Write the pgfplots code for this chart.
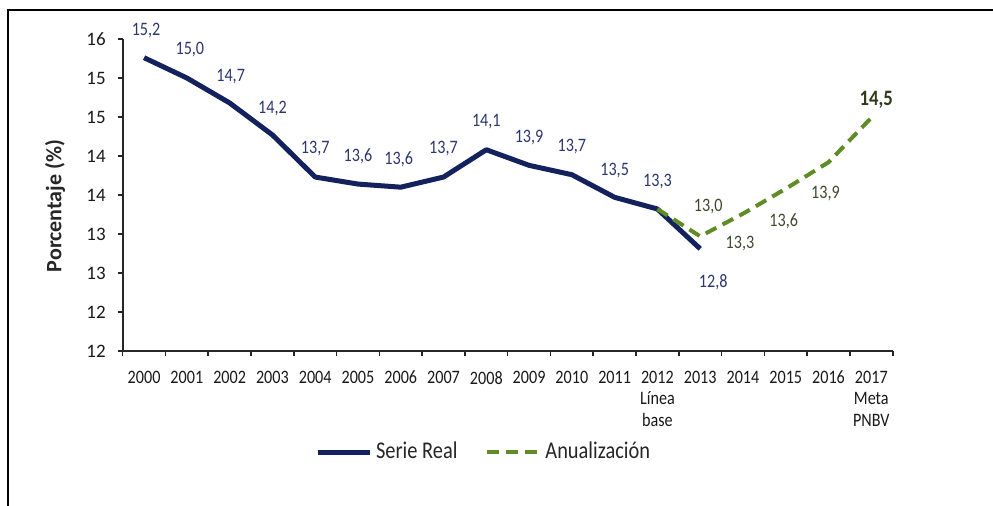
\documentclass[border=0pt]{standalone}
\usepackage{fontspec}
\setmainfont{Carlito}[FakeStretch=0.85]
\newfontfamily\ylabfont{Carlito}
\usepackage{pgfplots}
\pgfplotsset{compat=1.18}
\usepackage{pgfplotstable}
\definecolor{navyline}{HTML}{13215C}
\definecolor{navylab}{HTML}{2B3672}
\definecolor{greenline}{HTML}{5E8C25}
\definecolor{greenlab}{HTML}{3F4A2B}
\definecolor{greenbold}{HTML}{2F3A1F}

\pgfplotstableread{
x y lab dx dy
0 15.26 15,2 1 13.5
1 15.00 15,0 1.5 14
2 14.68 14,7 0.5 13
3 14.27 14,2 0 13
4 13.73 13,7 0 14
5 13.64 13,6 0 14
6 13.60 13,6 -1 14
7 13.73 13,7 0 14
8 14.08 14,1 0 14
9 13.88 13,9 0 14
10 13.76 13,7 0 14
11 13.47 13,5 0 13.5
12 13.32 13,3 0 13.5
13 12.81 12,8 6.5 -16.5
}\serie

\pgfplotstableread{
x y lab dx dy
12 13.32 {} 0 0
13 12.97 13,0 4 15
14 13.26 13,3 -1.5 -15
15 13.58 13,6 -1 -16.5
16 13.92 13,9 -1.5 -15.5
17 14.49 {} 0 0
}\anual

\pgfplotstableread{
x y lab
17 14.49 14,5
}\meta

\begin{document}
\begin{tikzpicture}
\useasboundingbox (0,0) rectangle (496.5pt,253pt);
\draw[line width=1pt, black] (4pt,0pt) -- (4pt,248pt) -- (496.5pt,248pt);
\node[rotate=90, font=\ylabfont\fontsize{11}{13}\selectfont\bfseries, text=black!85] at (27.5pt,150pt) {Porcentaje (\%)};
\begin{axis}[
  at={(61.35pt,77.5pt)}, anchor=south west,
  scale only axis, width=385pt, height=156pt,
  xmin=-0.5, xmax=17.5, ymin=11.5, ymax=15.5,
  axis x line*=bottom, axis y line*=left,
  axis line style={line width=0.9pt, black!85},
  tick align=outside,
  xtick={0,...,17},
  xticklabels={2000,2001,2002,2003,2004,2005,2006,2007,2008,2009,2010,2011,{2012\\[0.4pt]Línea\\[0.4pt]base},2013,2014,2015,2016,{2017\\[0.4pt]Meta\\[0.4pt]PNBV}},
  major x tick style={draw=none},
  minor xtick={-0.5,0.5,...,17.5},
  minor tick length=2.5pt, major tick length=2.5pt,
  ytick={11.5,12,12.5,13,13.5,14,14.5,15,15.5},
  yticklabels={12,12,13,13,14,14,15,15,16},
  tick style={line width=0.8pt, black!85},
  xticklabel style={font=\fontsize{9.5}{10.3}\selectfont, align=center, text=black!90, yshift=-4pt},
  yticklabel style={font=\ylabfont\fontsize{9.5}{11}\selectfont, text=black!90, xshift=-2.5pt},
  /pgf/number format/assume math mode=true,
  clip=false,
  legend style={at={(0.47,-0.324)}, anchor=center, draw=none, fill=none,
    legend columns=2, font=\fontsize{12}{14}\selectfont, text=black!85,
    /tikz/every even column/.append style={column sep=12pt}},
  legend cell align=left,
  legend image code/.code={\draw[#1] (0pt,0pt) -- (26pt,0pt);},
]
\addplot[navyline, line width=2.5pt, line join=round,
  nodes near coords, point meta=explicit symbolic,
  visualization depends on={\thisrow{dx} \as \dx},
  visualization depends on={\thisrow{dy} \as \dy},
  nodes near coords style={anchor=center, xshift=\dx pt, yshift=\dy pt,
    text=navylab, font=\fontsize{9.5}{11}\selectfont}]
  table[x=x, y=y, meta=lab] {\serie};
\addlegendentry{Serie Real}
\addplot[greenline, line width=2pt, dash pattern=on 6pt off 3.5pt,
  nodes near coords, point meta=explicit symbolic,
  visualization depends on={\thisrow{dx} \as \dx},
  visualization depends on={\thisrow{dy} \as \dy},
  nodes near coords style={anchor=center, xshift=\dx pt, yshift=\dy pt,
    text=greenlab, font=\fontsize{9.5}{11}\selectfont}]
  table[x=x, y=y, meta=lab] {\anual};
\addlegendentry{Anualización}
\addplot[draw=none, forget plot,
  nodes near coords, point meta=explicit symbolic,
  nodes near coords style={anchor=center, xshift=2.5pt, yshift=9pt,
    text=greenbold, font=\bfseries\fontsize{11}{13}\selectfont}]
  table[x=x, y=y, meta=lab] {\meta};
\end{axis}
\end{tikzpicture}
\end{document}
